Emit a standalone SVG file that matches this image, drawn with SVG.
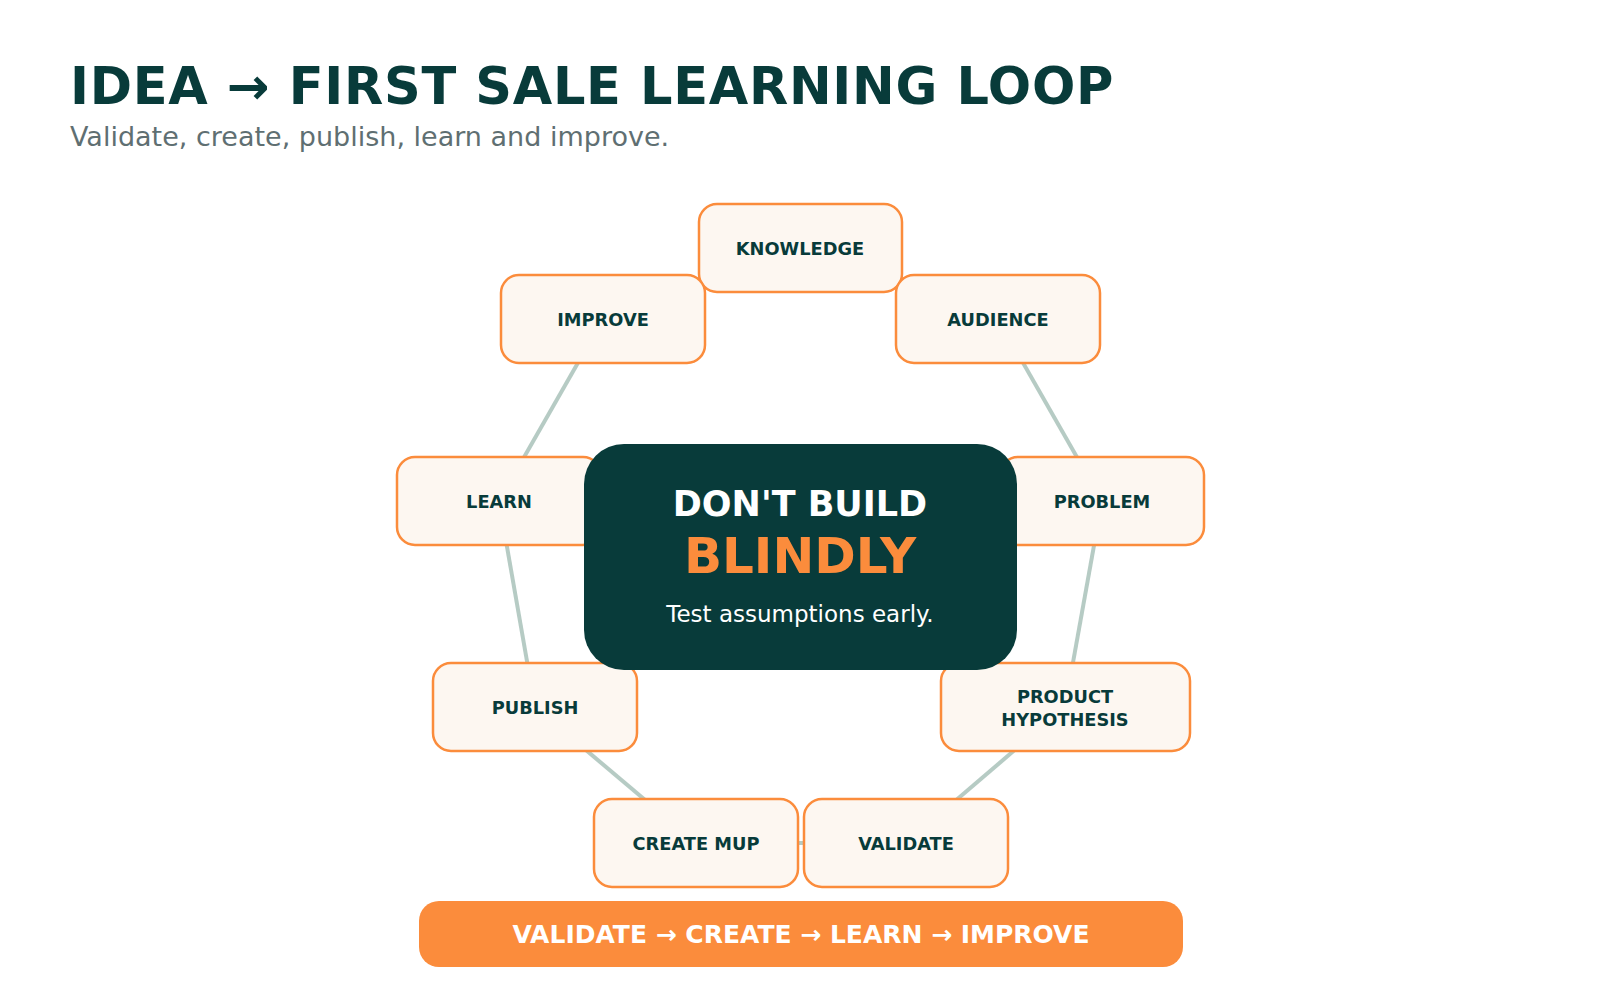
<svg xmlns="http://www.w3.org/2000/svg" width="1600" height="1000" viewBox="0 0 1600 1000">
<style>
text{font-family:"DejaVu Sans",sans-serif}
.n rect{fill:#fdf7f1;stroke:#fb8c3c;stroke-width:2.5}
.n text{font-size:17.8px;font-weight:bold;fill:#083b3a;text-anchor:middle}
.c line{stroke:#b6cbc4;stroke-width:4}
</style>
<rect width="1600" height="1000" fill="#fff"/>
<text x="70" y="104" font-size="51" font-weight="bold" fill="#083b3a" letter-spacing="0.7">IDEA → FIRST SALE LEARNING LOOP</text>
<text x="70" y="146" font-size="27" fill="#5f6f72">Validate, create, publish, learn and improve.</text>
<g transform="translate(-3,-3)">
<g class="c">
<line x1="803" y1="251" x2="1001" y2="322"/>
<line x1="1001" y1="322" x2="1105" y2="504"/>
<line x1="1105" y1="504" x2="1068" y2="710"/>
<line x1="1068" y1="710" x2="909" y2="846"/>
<line x1="909" y1="846" x2="699" y2="846"/>
<line x1="699" y1="846" x2="538" y2="710"/>
<line x1="538" y1="710" x2="502" y2="504"/>
<line x1="502" y1="504" x2="606" y2="322"/>
<line x1="606" y1="322" x2="803" y2="251"/>
</g>
<g id="knowledge" class="n"><rect x="702" y="207" width="203" height="88" rx="18"/><text x="803" y="258">KNOWLEDGE</text></g>
<g id="improve" class="n"><rect x="504" y="278" width="204" height="88" rx="18"/><text x="606" y="329">IMPROVE</text></g>
<g id="audience" class="n"><rect x="899" y="278" width="204" height="88" rx="18"/><text x="1001" y="329">AUDIENCE</text></g>
<g id="learn" class="n"><rect x="400" y="460" width="204" height="88" rx="18"/><text x="502" y="511">LEARN</text></g>
<g id="problem" class="n"><rect x="1003" y="460" width="204" height="88" rx="18"/><text x="1105" y="511">PROBLEM</text></g>
<g id="publish" class="n"><rect x="436" y="666" width="204" height="88" rx="18"/><text x="538" y="717">PUBLISH</text></g>
<g id="product" class="n"><rect x="944" y="666" width="249" height="88" rx="18"/><text x="1068" y="706">PRODUCT</text><text x="1068" y="729">HYPOTHESIS</text></g>
<g id="create" class="n"><rect x="597" y="802" width="204" height="88" rx="18"/><text x="699" y="853">CREATE MUP</text></g>
<g id="validate" class="n"><rect x="807" y="802" width="204" height="88" rx="18"/><text x="909" y="853">VALIDATE</text></g>
<g id="center">
<rect x="587" y="447" width="433" height="226" rx="40" fill="#083b3a"/>
<text x="803" y="519" font-size="35" font-weight="bold" fill="#fff" text-anchor="middle">DON'T BUILD</text>
<text x="803" y="576" font-size="50" font-weight="bold" fill="#fb8c3c" text-anchor="middle">BLINDLY</text>
<text x="803" y="625" font-size="23" fill="#fff" text-anchor="middle">Test assumptions early.</text>
</g>
<g id="banner">
<rect x="422" y="904" width="764" height="66" rx="20" fill="#fb8c3c"/>
<text x="804" y="946" font-size="25" font-weight="bold" fill="#fff" text-anchor="middle">VALIDATE → CREATE → LEARN → IMPROVE</text>
</g>
</g>
</svg>
